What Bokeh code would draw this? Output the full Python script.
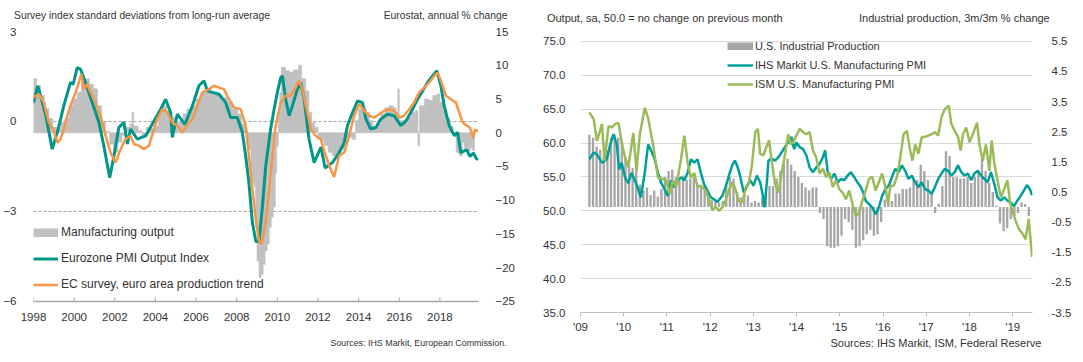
from bokeh.plotting import figure
from bokeh.models import (Range1d, LinearAxis, FixedTicker, Legend, LegendItem,
                          PrintfTickFormatter, Span)
from bokeh.layouts import row
from bokeh.embed import file_html
from bokeh.resources import INLINE

FONT = "Liberation Sans"
TXT = "#333333"

# ---------------- Left panel data ----------------
# Eurostat manufacturing output, annual % change (step values starting at given dates)
mfg_start = [1998.0, 1998.15, 1998.35, 1998.55, 1998.75, 1998.95, 1999.15, 1999.35, 1999.55, 1999.75,
             1999.95, 2000.15, 2000.35, 2000.55, 2000.75, 2000.95, 2001.15, 2001.35, 2001.55, 2001.75,
             2001.95, 2002.15, 2002.35, 2002.55, 2002.75, 2002.85, 2002.93, 2003.15, 2003.35, 2003.55,
             2003.75, 2003.95, 2004.15, 2004.35, 2004.55, 2004.75, 2004.95, 2005.15, 2005.35, 2005.55,
             2005.8, 2006.0, 2006.25, 2006.5, 2006.8, 2007.05, 2007.3, 2007.55, 2007.8, 2008.05,
             2008.25, 2008.45, 2008.55, 2008.7, 2008.85, 2008.93, 2009.0, 2009.1, 2009.2, 2009.3,
             2009.4, 2009.5, 2009.6, 2009.7, 2009.8, 2009.9, 2009.97, 2010.05, 2010.12, 2010.2,
             2010.4, 2010.6, 2010.8, 2011.05, 2011.2, 2011.4, 2011.55, 2011.7, 2011.85, 2012.0,
             2012.15, 2012.3, 2012.5, 2012.7, 2012.9, 2013.1, 2013.3, 2013.5, 2013.7, 2013.85,
             2014.0, 2014.2, 2014.4, 2014.55, 2014.7, 2014.9, 2015.1, 2015.3, 2015.5, 2015.7,
             2015.85, 2015.93, 2016.0, 2016.2, 2016.4, 2016.6, 2016.8, 2016.92, 2017.0, 2017.25,
             2017.45, 2017.65, 2017.85, 2018.0, 2018.15, 2018.35, 2018.5, 2018.65, 2018.8, 2018.95,
             2019.1, 2019.2, 2019.35, 2019.5, 2019.6]
mfg_val = [8.0, 7.0, 5.5, 3.6, 2.1, 0.8, 0.6, 1.5, 2.1, 4.0,
           5.0, 6.0, 7.5, 8.0, 7.2, 6.5, 4.0, 1.5, 0.2, -1.7,
           -2.9, -1.4, -0.4, 0.8, 1.3, 3.0, 1.0, 0.3, -0.4, 0.8,
           0.6, 1.0, 2.8, 4.0, 3.3, 2.3, 1.5, 1.7, 2.8, 3.5,
           4.0, 5.0, 6.0, 6.2, 6.0, 5.5, 5.2, 4.5, 3.5, 2.8,
           1.3, 0.3, -2.4, -7.4, -8.0, -14.0, -19.0, -21.5, -21.0, -19.5,
           -17.5, -16.5, -14.0, -12.5, -11.0, -6.0, -2.0, 3.0, 6.0, 9.7,
           9.2, 9.0, 9.3, 10.0, 8.0, 6.2, 3.0, 1.5, 0.8, -0.8,
           -1.2, -1.9, -2.9, -3.4, -2.9, -2.4, -1.4, -0.7, -1.0, 1.8,
           3.5, 3.5, 3.0, 1.8, 1.0, 1.3, 2.8, 3.7, 4.0, 3.7,
           2.8, 6.5, 1.8, 1.5, 2.3, 3.0, 3.3, -1.9, 4.0, 5.0,
           4.8, 5.5, 5.7, 4.5, 3.3, 2.1, 1.0, -0.4, -2.9, -3.4,
           -1.4, -2.3, -2.7, -2.2, -2.6]
mfg_end = 2019.7

# Eurozone PMI Output Index, standard deviations from long-run average
pmi_year = [1998.0, 1998.21, 1998.59, 1998.92, 1999.17, 1999.49, 1999.82, 1999.95, 2000.15, 2000.31,
            2000.56, 2000.89, 2001.22, 2001.46, 2001.75, 2001.96, 2002.2, 2002.45, 2002.62, 2002.78,
            2003.11, 2003.52, 2003.93, 2004.26, 2004.5, 2004.75, 2004.83, 2005.08, 2005.45, 2005.82,
            2006.14, 2006.39, 2006.56, 2006.8, 2007.13, 2007.46, 2007.7, 2008.03, 2008.28, 2008.44,
            2008.6, 2008.77, 2008.94, 2009.1, 2009.27, 2009.43, 2009.67, 2009.84, 2010.0, 2010.17,
            2010.25, 2010.41, 2010.58, 2010.74, 2010.99, 2011.15, 2011.32, 2011.56, 2011.81, 2012.05,
            2012.15, 2012.35, 2012.71, 2013.04, 2013.29, 2013.45, 2013.7, 2013.95, 2014.19, 2014.36,
            2014.6, 2014.85, 2015.09, 2015.42, 2015.75, 2016.08, 2016.33, 2016.57, 2016.9, 2017.15,
            2017.39, 2017.64, 2017.85, 2018.05, 2018.21, 2018.46, 2018.71, 2018.87, 2019.03, 2019.2,
            2019.31, 2019.48, 2019.65, 2019.82, 2019.88]
pmi_val = [0.63, 1.19, 0.25, -0.92, -0.37, 0.52, 1.3, 1.24, 1.8, 1.75,
           1.3, 0.63, -0.03, -0.81, -1.87, -1.14, -0.2, -0.03, -0.75, -0.25,
           -0.59, -0.48, 0.02, 0.41, 0.74, 0.3, -0.53, 0.25, -0.1, 0.52,
           1.19, 1.36, 1.02, 0.97, 0.91, 0.63, 0.13, 0.13, -0.37, -1.14,
           -2.03, -3.36, -4.0, -4.0, -2.81, -1.48, -0.25, 0.41, 0.97, 1.47,
           1.52, 0.74, 0.19, 0.52, 1.08, 1.3, 0.74, -0.59, -1.37, -1.0,
           -0.85, -1.55, -1.37, -1.04, -0.71, -0.14, 0.3, 0.69, 0.63, 0.08,
           -0.25, -0.2, 0.08, 0.24, 0.19, -0.14, 0.02, 0.3, 0.74, 1.02,
           1.3, 1.52, 1.69, 1.19, 0.52, -0.14, -0.47, -0.36, -1.04, -0.98,
           -0.94, -1.16, -1.05, -1.27, -1.22]

# EC survey, euro area production trend (standard deviations)
ec_year = [1998.0, 1998.26, 1998.51, 1998.75, 1999.0, 1999.17, 1999.33, 1999.49, 1999.66, 1999.82,
           2000.07, 2000.23, 2000.35, 2000.48, 2000.64, 2000.81, 2001.05, 2001.3, 2001.55, 2001.79,
           2002.04, 2002.29, 2002.53, 2002.78, 2002.94, 2003.19, 2003.43, 2003.68, 2003.93, 2004.09,
           2004.34, 2004.59, 2004.83, 2005.08, 2005.33, 2005.52, 2005.82, 2006.06, 2006.31, 2006.64,
           2006.88, 2007.13, 2007.37, 2007.62, 2007.87, 2008.2, 2008.44, 2008.6, 2008.77, 2008.94,
           2009.1, 2009.23, 2009.43, 2009.6, 2009.76, 2009.92, 2010.17, 2010.41, 2010.66, 2010.9,
           2011.07, 2011.23, 2011.4, 2011.65, 2011.89, 2012.14, 2012.34, 2012.63, 2012.79, 2013.04,
           2013.29, 2013.53, 2013.78, 2014.03, 2014.27, 2014.52, 2014.77, 2015.01, 2015.26, 2015.5,
           2015.75, 2016.0, 2016.24, 2016.49, 2016.73, 2016.98, 2017.23, 2017.47, 2017.72, 2017.89,
           2018.05, 2018.3, 2018.54, 2018.79, 2018.95, 2019.12, 2019.25, 2019.48, 2019.65, 2019.72,
           2019.88]
ec_val = [0.8, 0.91, 0.63, -0.03, -0.31, -0.7, -0.59, -0.25, 0.19, 0.52,
          0.97, 1.3, 1.58, 1.08, 1.24, 0.97, 0.63, 0.19, -0.48, -1.03,
          -1.37, -0.92, -0.59, -0.48, -0.75, -0.81, -0.92, -0.81, -0.25, 0.08,
          0.41, 0.3, -0.03, -0.14, -0.37, -0.15, 0.08, 0.52, 0.97, 1.08,
          1.19, 1.13, 1.08, 0.74, 0.47, 0.41, -0.14, -1.14, -2.25, -3.26,
          -3.98, -4.09, -3.36, -2.25, -1.14, -0.14, 0.63, 0.86, 0.86, 1.13,
          1.36, 1.08, 0.52, -0.25, -0.48, -0.6, -1.05, -1.6, -1.85, -1.14,
          -1.03, -0.48, 0.19, 0.58, 0.36, 0.19, 0.13, 0.24, 0.36, 0.41,
          0.36, 0.13, 0.19, 0.41, 0.63, 0.97, 1.13, 1.3, 1.52, 1.63,
          1.36, 0.86, 0.74, 0.63, 0.3, -0.03, -0.1, -0.21, -0.55, -0.27,
          -0.32]

left_x_ticks = [1998, 2000, 2002, 2004, 2006, 2008, 2010, 2012, 2014, 2016, 2018]
left_y_ticks = [-6, -3, 0, 3]
left_r_ticks = [-25, -20, -15, -10, -5, 0, 5, 10, 15]

# ---------------- Right panel data ----------------
# U.S. industrial production, 3m/3m % change, monthly from first month below
ip_first_month = 2009.206
ip_val = [2.4, 2.3, 2.0, 1.9, 1.7, 1.9, 2.3, 2.4, 2.3, 2.2,
          1.65, 1.4, 1.3, 1.3, 0.75, 0.55, 0.65, 0.4, 0.55, 0.35,
          0.6, 1.0, 1.2, 1.25, 1.0, 0.9, 1.05, 0.9, 0.95, 1.0,
          0.75, 0.7, 0.65, 0.3, 0.25, 0.2, 0.15, 0.2, 0.7, 1.0,
          0.95, 0.5, 0.32, 0.43, 0.38, 0.15, 0.2, 0.15, 0.3, 0.5,
          0.7, 0.7, 0.95, 1.2, 1.45, 1.6, 1.4, 1.2, 1.0, 0.8,
          0.65, 0.55, 0.65, 0.65, -0.2, -0.4, -1.3, -1.35, -1.35, -1.3,
          -0.95, -0.4, -0.5, -0.75, -1.35, -1.3, -1.1, -0.9, -0.75, -0.95,
          -0.9, -0.5, 0.25, 0.2, 0.2, 0.45, 0.45, 0.6, 0.6, 0.65,
          0.9, 0.9, 1.4, 1.2, 0.9, 0.5, -0.2, 0.1, 0.7, 1.85,
          1.7, 1.0, 1.0, 0.95, 0.95, 1.0, 0.8, 1.0, 1.2, 1.6,
          1.2, 0.8, 0.5, 0.05, -0.55, -0.8, -0.7, -0.4, -0.3, -0.2,
          0.15, 0.1, -0.3]

ihs_year = [2009.206, 2009.305, 2009.382, 2009.496, 2009.61, 2009.687, 2009.763, 2009.839, 2009.893, 2009.954,
            2010.03, 2010.106, 2010.182, 2010.259, 2010.335, 2010.396, 2010.487, 2010.564, 2010.64, 2010.716,
            2010.793, 2010.869, 2010.945, 2011.021, 2011.098, 2011.174, 2011.25, 2011.326, 2011.403, 2011.479,
            2011.555, 2011.632, 2011.708, 2011.785, 2011.861, 2011.937, 2012.013, 2012.09, 2012.166, 2012.28,
            2012.356, 2012.433, 2012.509, 2012.57, 2012.623, 2012.699, 2012.776, 2012.852, 2012.928, 2013.005,
            2013.081, 2013.157, 2013.211, 2013.256, 2013.31, 2013.348, 2013.424, 2013.5, 2013.577, 2013.653,
            2013.729, 2013.806, 2013.882, 2013.943, 2013.996, 2014.072, 2014.149, 2014.225, 2014.301, 2014.378,
            2014.454, 2014.53, 2014.607, 2014.66, 2014.721, 2014.797, 2014.873, 2014.95, 2015.026, 2015.102,
            2015.179, 2015.255, 2015.331, 2015.407, 2015.484, 2015.522, 2015.598, 2015.674, 2015.75, 2015.827,
            2015.903, 2015.979, 2016.056, 2016.132, 2016.208, 2016.284, 2016.361, 2016.437, 2016.513, 2016.59,
            2016.666, 2016.742, 2016.818, 2016.895, 2016.971, 2017.047, 2017.124, 2017.2, 2017.276, 2017.352,
            2017.429, 2017.505, 2017.581, 2017.658, 2017.734, 2017.81, 2017.886, 2017.963, 2018.039, 2018.115,
            2018.192, 2018.268, 2018.344, 2018.42, 2018.497, 2018.573, 2018.649, 2018.726, 2018.802, 2018.878,
            2018.954, 2019.031, 2019.107, 2019.183, 2019.26, 2019.33, 2019.39, 2019.45]
ihs_val = [57.6, 58.6, 58.3, 57.1, 57.6, 59.8, 61.3, 59.8, 56.1, 57.1,
           54.9, 54.1, 55.6, 54.5, 53.2, 52.0, 55.6, 59.8, 58.8, 57.6,
           55.6, 54.1, 53.2, 52.2, 54.5, 53.5, 54.5, 54.9, 54.5, 55.6,
           57.6, 57.1, 57.6, 55.6, 53.9, 53.0, 52.0, 51.7, 51.3, 52.2,
           53.5, 55.2, 56.7, 57.4, 56.7, 55.0, 52.7, 53.7, 54.5, 53.7,
           55.2, 54.2, 52.5, 50.5, 54.0, 57.4, 57.7, 57.4, 57.9, 58.6,
           59.4, 60.1, 60.9, 59.1, 60.1, 59.4, 59.1, 58.2, 56.4, 55.7,
           56.4, 56.9, 57.9, 58.9, 55.7, 54.7, 55.5, 54.2, 54.7, 54.5,
           55.2, 55.7, 55.0, 54.2, 53.5, 53.0, 51.5, 51.0, 50.5, 49.5,
           50.5, 52.2, 53.2, 53.7, 55.0, 56.2, 55.7, 56.7, 55.9, 54.7,
           55.2, 54.2, 53.5, 54.2, 53.2, 53.0, 52.5, 53.5, 54.7, 55.5,
           56.2, 55.9, 55.2, 55.7, 56.7, 55.7, 55.2, 55.5, 54.5, 55.5,
           55.9, 55.2, 54.7, 54.2, 55.7, 54.0, 52.0, 51.5, 52.0, 51.5,
           51.2, 50.7, 51.5, 52.2, 53.0, 53.8, 53.3, 52.3]

ism_year = [2009.206, 2009.305, 2009.382, 2009.496, 2009.557, 2009.648, 2009.725, 2009.801, 2009.877, 2009.954,
            2010.03, 2010.106, 2010.221, 2010.297, 2010.373, 2010.487, 2010.564, 2010.678, 2010.793, 2010.907,
            2010.983, 2011.059, 2011.136, 2011.212, 2011.326, 2011.403, 2011.479, 2011.555, 2011.632, 2011.708,
            2011.785, 2011.899, 2011.976, 2012.052, 2012.128, 2012.204, 2012.28, 2012.356, 2012.433, 2012.509,
            2012.585, 2012.661, 2012.738, 2012.814, 2012.89, 2012.966, 2013.043, 2013.104, 2013.157, 2013.233,
            2013.31, 2013.363, 2013.424, 2013.5, 2013.577, 2013.653, 2013.729, 2013.806, 2013.867, 2013.92,
            2013.996, 2014.072, 2014.149, 2014.225, 2014.301, 2014.378, 2014.454, 2014.53, 2014.607, 2014.683,
            2014.759, 2014.835, 2014.912, 2014.988, 2015.064, 2015.141, 2015.217, 2015.293, 2015.369, 2015.446,
            2015.522, 2015.598, 2015.674, 2015.75, 2015.827, 2015.903, 2015.979, 2016.056, 2016.117, 2016.17,
            2016.246, 2016.323, 2016.399, 2016.475, 2016.551, 2016.628, 2016.681, 2016.742, 2016.818, 2016.895,
            2016.971, 2017.047, 2017.124, 2017.2, 2017.276, 2017.352, 2017.429, 2017.52, 2017.581, 2017.658,
            2017.734, 2017.795, 2017.848, 2017.925, 2018.001, 2018.077, 2018.176, 2018.23, 2018.306, 2018.382,
            2018.459, 2018.512, 2018.573, 2018.649, 2018.726, 2018.802, 2018.878, 2018.939, 2018.992, 2019.069,
            2019.145, 2019.23, 2019.3, 2019.37, 2019.45]
ism_val = [64.5, 63.5, 60.3, 62.8, 57.4, 62.5, 62.3, 62.8, 63.0, 60.1,
           57.9, 56.4, 61.5, 55.9, 61.3, 65.2, 63.7, 59.8, 54.9, 54.7,
           54.5, 52.5, 54.5, 53.5, 57.6, 61.1, 57.1, 54.9, 55.6, 53.5,
           53.7, 53.0, 51.5, 50.1, 50.6, 50.0, 50.5, 51.5, 53.0, 54.2,
           53.2, 51.5, 51.2, 53.0, 54.0, 56.7, 61.6, 62.1, 58.4, 58.2,
           59.6, 60.4, 57.4, 54.0, 52.7, 55.6, 58.2, 61.3, 59.8, 60.1,
           61.1, 62.1, 61.6, 61.3, 61.6, 58.9, 57.9, 55.5, 56.2, 55.0,
           55.7, 53.5, 54.5, 53.2, 52.7, 51.7, 53.0, 51.0, 49.2, 49.7,
           51.5, 53.0, 54.7, 55.0, 53.0, 54.2, 55.5, 53.5, 51.0, 53.7,
           53.7, 55.0, 57.9, 61.3, 61.8, 58.9, 57.4, 59.8, 58.4, 60.9,
           60.9, 61.1, 61.3, 61.6, 61.1, 63.8, 65.0, 65.5, 62.8, 61.8,
           60.9, 58.9, 61.3, 62.3, 60.1, 61.3, 63.0, 59.8, 57.4, 59.8,
           55.9, 60.4, 57.1, 54.5, 52.0, 53.2, 54.5, 51.2, 50.0, 48.5,
           47.3, 46.6, 45.8, 48.8, 43.2]

right_x_ticks = [2009, 2010, 2011, 2012, 2013, 2014, 2015, 2016, 2017, 2018, 2019]
right_x_labels = ["'09", "'10", "'11", "'12", "'13", "'14", "'15", "'16", "'17", "'18", "'19"]
right_y_ticks = [35, 40, 45, 50, 55, 60, 65, 70, 75]
right_r_ticks = [-3.5, -2.5, -1.5, -0.5, 0.5, 1.5, 2.5, 3.5, 4.5, 5.5]

# header / footer texts
left_title = "Survey index standard deviations from long-run average"
left_rtitle = "Eurostat, annual % change"
left_source = "Sources: IHS Markit, European Commission."
right_title = "Output, sa, 50.0 = no change on previous month"
right_rtitle = "Industrial production, 3m/3m % change"
right_source = "Sources: IHS Markit, ISM,  Federal Reserve"

# ---------------- styles ----------------
TEAL = "#009688"
ORANGE = "#F79646"
GREY_L = "#C0C0C0"
GREY_R = "#A6A6A6"
TEAL_R = "#00A09A"
GREEN = "#9BBB59"
AXIS_GREY = "#A6A6A6"


def style_axis(ax, size="11.5px"):
    ax.major_label_text_font = FONT
    ax.major_label_text_font_size = size
    ax.major_label_text_color = TXT
    ax.minor_tick_line_color = None


def text_axis(fig, place, positions, texts, size, standoff):
    ax = LinearAxis(ticker=FixedTicker(ticks=positions),
                    major_label_overrides={p: t for p, t in zip(positions, texts)})
    ax.axis_line_color = None
    ax.major_tick_line_color = None
    ax.major_tick_in = 0
    ax.major_tick_out = 0
    ax.major_label_standoff = standoff
    style_axis(ax, size)
    fig.add_layout(ax, place)
    return ax


# Both frames span page y 31..312 (Bokeh aligns plot frames in a row).
# ================= LEFT FIGURE =================
# left scale 30 px per unit; -6 sits 11 px above the frame bottom
p1 = figure(width=540, height=362, x_range=Range1d(1998, 2019.9), y_range=Range1d(-6.3667, 3),
            output_backend="svg", toolbar_location=None,
            min_border_left=33, min_border_right=62, min_border_top=31, min_border_bottom=50)
p1.outline_line_color = None
p1.background_fill_color = "white"
p1.border_fill_color = "white"
p1.extra_y_ranges = {"r": Range1d(-26.63, 15)}

p1.xgrid.visible = False
p1.ygrid.ticker = FixedTicker(ticks=[-3, 0, 3])
p1.ygrid.grid_line_color = "#8C8C8C"
p1.ygrid.grid_line_dash = "3 2"
p1.ygrid.grid_line_width = 0.8

xa = p1.xaxis[0]
xa.ticker = FixedTicker(ticks=left_x_ticks)
xa.axis_line_color = None
xa.major_tick_line_color = None
xa.major_tick_in = 0
xa.major_tick_out = 0
xa.major_label_standoff = 0
style_axis(xa)

ya = p1.yaxis[0]
ya.ticker = FixedTicker(ticks=left_y_ticks)
ya.axis_line_color = None
ya.major_tick_line_color = None
ya.major_label_standoff = 11
style_axis(ya)

ra = LinearAxis(y_range_name="r", ticker=FixedTicker(ticks=left_r_ticks))
ra.axis_line_color = None
ra.major_tick_line_color = None
ra.major_label_standoff = 11
style_axis(ra)
p1.add_layout(ra, "right")

text_axis(p1, "above", [2003.34, 2018.28], [left_title, left_rtitle], "10.3px", 11)
text_axis(p1, "below", [2016.95], [left_source], "8.9px", 14)

mfg_right = mfg_start[1:] + [mfg_end]
p1.quad(left=mfg_start, right=mfg_right, bottom=0, top=mfg_val, y_range_name="r",
        fill_color=GREY_L, line_color=GREY_L, line_width=0.6)

# bottom axis line at -6 with short inward ticks
p1.add_layout(Span(location=-6, dimension="width", line_color=AXIS_GREY, line_width=1.5))
p1.segment(x0=left_x_ticks, y0=[-6] * len(left_x_ticks), x1=left_x_ticks,
           y1=[-6 + 4 / 30] * len(left_x_ticks), line_color=AXIS_GREY, line_width=1)

pmi_r = p1.line(pmi_year, pmi_val, color=TEAL, line_width=3)
ec_r = p1.line(ec_year, ec_val, color=ORANGE, line_width=2.5)
# legend swatch for the bars (hidden line over the same data, drawn only in the legend)
bar_key1 = p1.line(mfg_start, mfg_val, y_range_name="r", color=GREY_L, line_width=9, visible=False)

leg1 = Legend(items=[LegendItem(label="Manufacturing output", renderers=[bar_key1]),
                     LegendItem(label="Eurozone PMI Output Index", renderers=[pmi_r]),
                     LegendItem(label="EC survey, euro area production trend", renderers=[ec_r])],
              location=(0, 16), glyph_width=25, glyph_height=9, label_height=24, spacing=2,
              padding=0, margin=0, label_standoff=3, border_line_color=None,
              background_fill_alpha=0, label_text_font=FONT, label_text_font_size="12px",
              label_text_color=TXT)
p1.add_layout(leg1)

# ================= RIGHT FIGURE =================
# 35 at frame bottom, 6.78 px per unit
p2 = figure(width=543, height=362, x_range=Range1d(2009, 2019.458), y_range=Range1d(35, 76.45),
            output_backend="svg", toolbar_location=None,
            min_border_left=35, min_border_right=51, min_border_top=31, min_border_bottom=50)
p2.outline_line_color = None
p2.background_fill_color = "white"
p2.border_fill_color = "white"
p2.extra_y_ranges = {"r": Range1d(-3.5, 5.826)}

p2.xgrid.visible = False
p2.ygrid.ticker = FixedTicker(ticks=[40, 45, 50, 55, 60, 65, 70, 75])
p2.ygrid.grid_line_color = "#D9D9D9"
p2.ygrid.grid_line_width = 1.2

xb = p2.xaxis[0]
xb.ticker = FixedTicker(ticks=right_x_ticks)
xb.major_label_overrides = {t: lab for t, lab in zip(right_x_ticks, right_x_labels)}
xb.axis_line_color = "#BFBFBF"
xb.axis_line_width = 1.2
xb.major_tick_line_color = "#BFBFBF"
xb.major_tick_in = 0
xb.major_tick_out = 4
xb.major_label_standoff = 4
style_axis(xb)

yb = p2.yaxis[0]
yb.ticker = FixedTicker(ticks=right_y_ticks)
yb.formatter = PrintfTickFormatter(format="%.1f")
yb.axis_line_color = None
yb.major_tick_line_color = None
yb.major_label_standoff = 9
style_axis(yb)

rb = LinearAxis(y_range_name="r", ticker=FixedTicker(ticks=right_r_ticks),
                formatter=PrintfTickFormatter(format="%.1f"))
rb.axis_line_color = None
rb.major_tick_line_color = None
rb.major_label_standoff = 13
style_axis(rb)
p2.add_layout(rb, "right")

text_axis(p2, "above", [2010.95, 2017.65], [right_title, right_rtitle], "11px", 8)
text_axis(p2, "below", [2017.26], [right_source], "11px", 1)

ip_x = [ip_first_month + i / 12 for i in range(len(ip_val))]
p2.vbar(x=ip_x, top=ip_val, bottom=0, width=0.65 / 12, y_range_name="r",
        fill_color=GREY_R, line_color=None)
ihs_r = p2.line(ihs_year, ihs_val, color=TEAL_R, line_width=2.5)
ism_r = p2.line(ism_year, ism_val, color=GREEN, line_width=2.5)
bar_key2 = p2.line(ip_x, ip_val, y_range_name="r", color=GREY_R, line_width=8, visible=False)

leg2 = Legend(items=[LegendItem(label="U.S. Industrial Production", renderers=[bar_key2]),
                     LegendItem(label="IHS Markit U.S. Manufacturing PMI", renderers=[ihs_r]),
                     LegendItem(label="ISM U.S. Manufacturing PMI", renderers=[ism_r])],
              location=(147, 219), glyph_width=26, glyph_height=8, label_height=18, spacing=1,
              padding=0, margin=0, label_standoff=2, border_line_color=None,
              background_fill_alpha=0, label_text_font=FONT, label_text_font_size="11px",
              label_text_color=TXT)
p2.add_layout(leg2)

layout = row(p1, p2)
open("out.html", "w").write(file_html(layout, INLINE))
